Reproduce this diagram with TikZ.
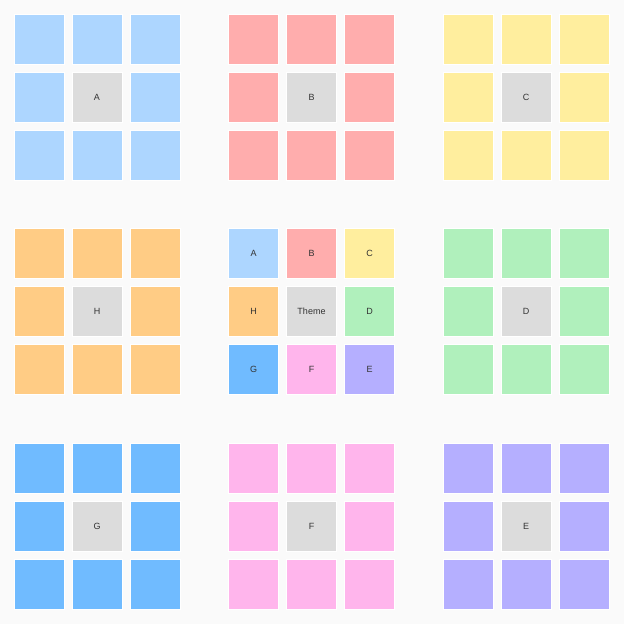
\documentclass[tikz,border=0pt]{standalone}
\usepackage{fontspec}
\setsansfont{Liberation Sans}
\definecolor{bgwhite}{HTML}{FAFAFA}
\definecolor{themegray}{HTML}{DCDCDC}
\definecolor{textdark}{HTML}{333333}
\definecolor{tileA}{HTML}{ADD6FF}
\definecolor{tileB}{HTML}{FFADAD}
\definecolor{tileC}{HTML}{FFEE9E}
\definecolor{tileD}{HTML}{B0F0BC}
\definecolor{tileE}{HTML}{B5AFFF}
\definecolor{tileF}{HTML}{FFB5EC}
\definecolor{tileG}{HTML}{70BBFF}
\definecolor{tileH}{HTML}{FFCC85}

\begin{document}
\begin{tikzpicture}[
    x=1pt, y=-1pt,
    cell/.style={minimum size=50pt, inner sep=0pt, draw=white, line width=0.6pt,
      font=\sffamily\fontsize{9}{10}\selectfont, text=textdark},
    core/.style={cell, fill=themegray}
  ]
  \fill[bgwhite] (0,0) rectangle (624,624);

  % Outer groups: eight tiles of one colour round a grey core
  \foreach \name/\gx/\gy in {A/0/0, B/1/0, C/2/0, H/0/1, D/2/1, G/0/2, F/1/2, E/2/2} {
    \foreach \cx/\cy in {0/0,1/0,2/0,0/1,2/1,0/2,1/2,2/2}
      \node[cell, fill=tile\name] (\name-\cx\cy) at ({39+214.5*\gx+58*\cx}, {39+214.5*\gy+58*\cy}) {};
    \node[core] (\name-core) at ({97+214.5*\gx}, {97+214.5*\gy}) {\name};
  }

  % Theme group in the middle
  \foreach \name/\cx/\cy in {A/0/0, B/1/0, C/2/0, D/2/1, E/2/2, F/1/2, G/0/2, H/0/1}
    \node[cell, fill=tile\name] (theme-\name) at ({253.5+58*\cx}, {253.5+58*\cy}) {\name};
  \node[core] (theme) at (311.5,311.5) {Theme};
\end{tikzpicture}
\end{document}
